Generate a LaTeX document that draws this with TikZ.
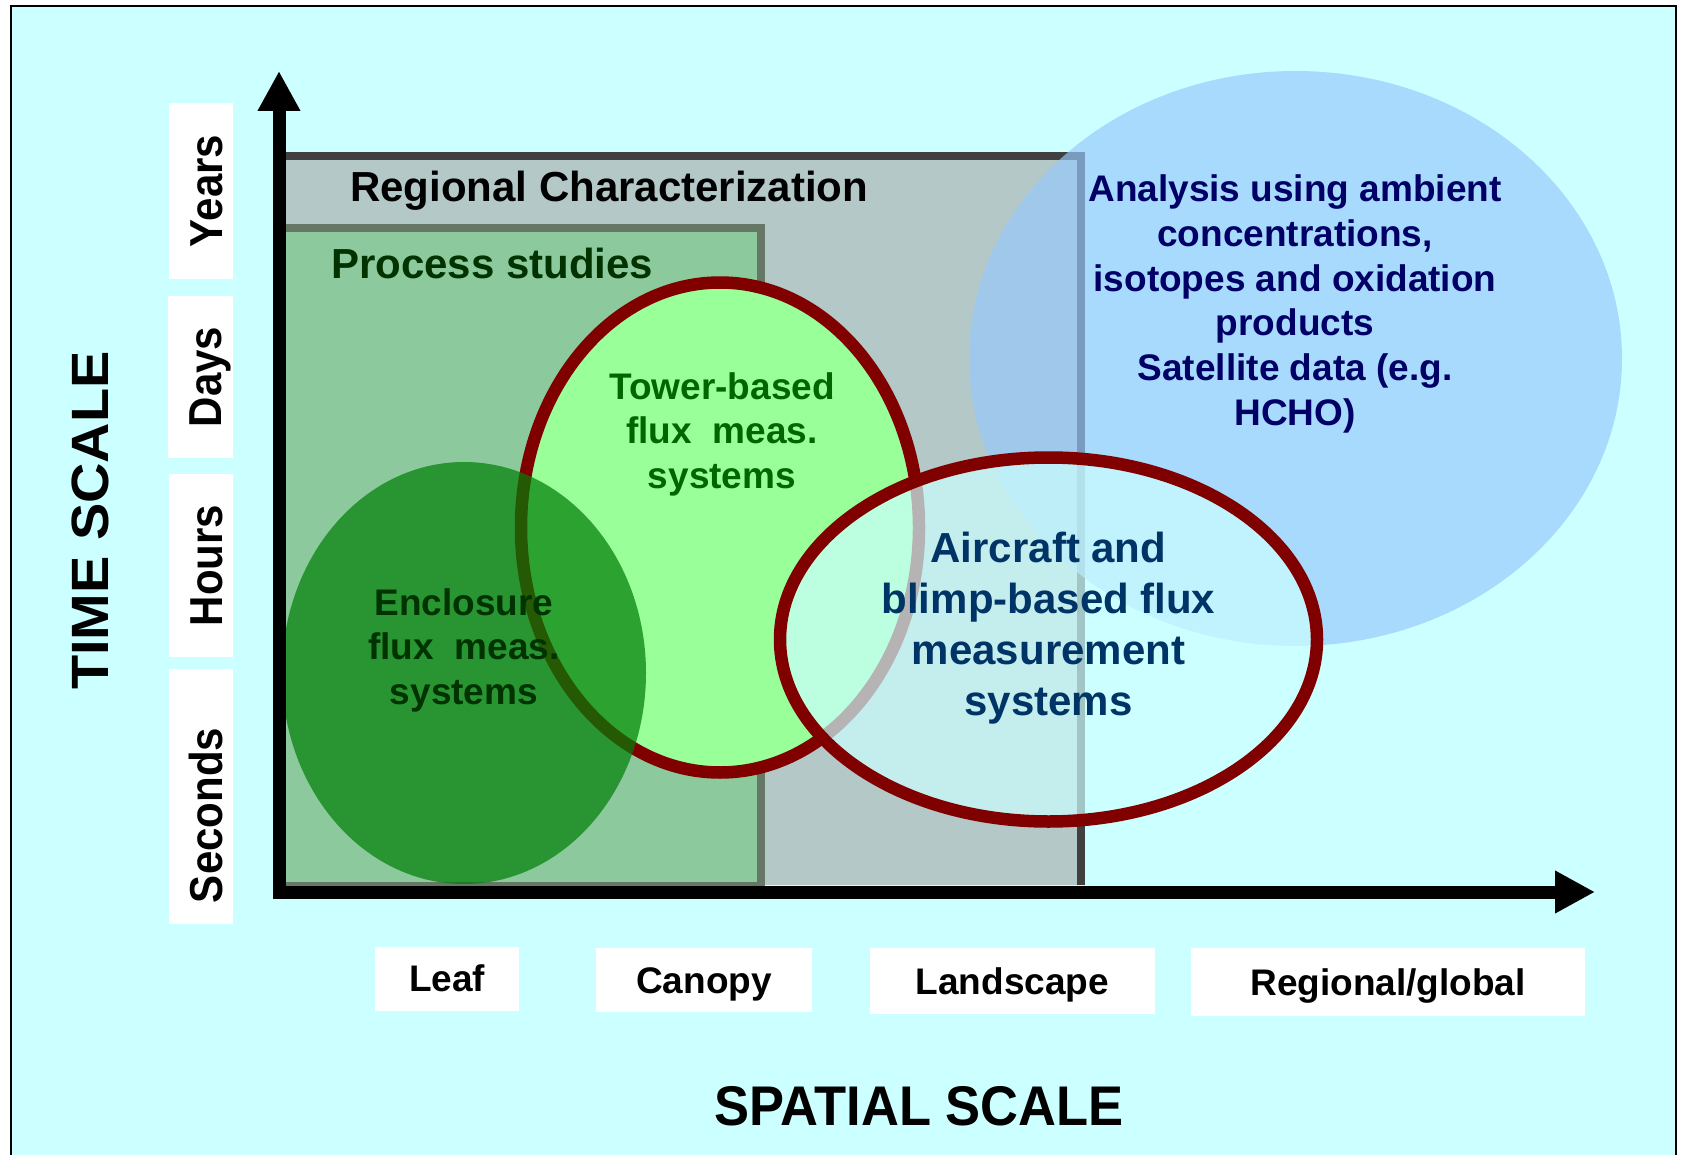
\documentclass[tikz,border=0pt]{standalone}
\usepackage{fontspec}
\setmainfont{Liberation Sans}
\usetikzlibrary{arrows.meta}

\definecolor{bgcyan}{RGB}{204,255,255}
\definecolor{regfill}{RGB}{180,200,200}
\definecolor{regline}{RGB}{64,64,64}
\definecolor{procfill}{RGB}{140,202,158}
\definecolor{procline}{RGB}{102,119,102}
\definecolor{towerfill}{RGB}{153,255,153}
\definecolor{rimred}{RGB}{128,0,0}
\definecolor{enclfill}{RGB}{0,126,7}
\definecolor{skyfill}{RGB}{150,200,252}
\definecolor{procgreen}{RGB}{0,51,0}
\definecolor{towergreen}{RGB}{0,102,0}
\definecolor{navytext}{RGB}{0,0,102}
\definecolor{airtext}{RGB}{0,51,102}

\newcommand{\fsz}[2]{\fontsize{#1}{#2}\selectfont\bfseries}

\begin{document}
\begin{tikzpicture}[x=1pt,y=-1pt,
  axisline/.style={line width=13pt, line cap=rect, -{Triangle[length=40pt,width=40pt]}},
  rim/.style={draw=rimred, line width=12.5pt},
  body/.style={align=center, inner sep=0pt, anchor=north},
  tickbox/.style={fill=white, inner sep=0pt, text height=26.6pt, text depth=0pt, font=\fsz{37}{44}},
  timebox/.style={fill=white, inner sep=0pt, rotate=90, yscale=1.1, text height=38.2pt,
                  text depth=0pt, minimum height=58.2pt, font=\fsz{42}{50}},
  title/.style={font=\fsz{52.5}{60}, anchor=base, inner sep=0pt, yscale=1.065},
]
% page and framed panel
\fill[white] (0,0) rectangle (1681,1155);
\useasboundingbox (0,0) rectangle (1681,1155);
\draw[line width=2.5pt, fill=bgcyan] (11,6) rectangle (1676,1175);

% scale regions
\fill[regfill] (279,156) rectangle (1081,885);
\draw[regline, line width=8pt, line join=miter] (279,156) -- (1081,156) -- (1081,885);
\fill[procfill] (279,228) rectangle (761,886);
\draw[procline, line width=8pt, line join=miter] (279,228) -- (761,228) -- (761,886) -- (279,886);

% measurement approaches
\coordinate (skyc) at (1295.5,358.5);
\coordinate (towc) at (720,527.5);
\coordinate (encc) at (464,673);
\coordinate (airc) at (1048.5,639.5);
\fill[skyfill, fill opacity=0.67] (skyc) ellipse [x radius=326.5, y radius=287.5];
\draw[rim, fill=towerfill] (towc) ellipse [x radius=199, y radius=245];
\fill[enclfill, fill opacity=0.71] (encc) ellipse [x radius=182, y radius=211];
\draw[rim, fill=bgcyan, fill opacity=0.7] (airc) ellipse [x radius=268.5, y radius=182];

% axes
\coordinate (origin) at (279,892);
\coordinate (ytip) at (279,71);
\coordinate (xtip) at (1595,892);
\draw[axisline] (origin) -- (ytip);
\draw[axisline] (origin) -- (xtip);

% region titles
\node[font=\fsz{42}{50}, anchor=base west, inner sep=0pt] (regional) at (350,202) {Regional Characterization};
\node[font=\fsz{42}{50}, anchor=base west, inner sep=0pt, text=procgreen] (process) at (331,279) {Process studies};

% texts inside the ellipses
\node[body, font=\fsz{37}{44.8}, text=navytext] (analysis) at (1295,174.4)
  {Analysis using ambient\\concentrations,\\isotopes and oxidation\\products\\Satellite data (e.g.\\HCHO)};
\node[body, font=\fsz{37}{44.7}, text=towergreen] (tower) at (722,372) {Tower-based\\flux~~meas.\\systems};
\node[body, font=\fsz{37}{44.5}, text=procgreen] (enclosure) at (464,588.4) {Enclosure\\flux~~meas.\\systems};
\node[body, font=\fsz{42}{51.2}, text=airtext] (aircraft) at (1048.5,531.5)
  {Aircraft and\\blimp-based flux\\measurement\\systems};

% time axis labels
\node[timebox, minimum width=176pt] (years) at (201,191) {Years};
\node[timebox, minimum width=162pt] (days) at (200.5,377) {Days};
\node[timebox, minimum width=183pt] (hours) at (201,565.5) {Hours};
\node[timebox, text width=213pt, align=left, inner xsep=21pt] (seconds) at (201,796.5) {Seconds};

% spatial axis labels
\node[tickbox, minimum width=144.4pt, minimum height=64pt] (leaf) at (447.2,978.5) {Leaf};
\node[tickbox, minimum width=216pt, minimum height=64pt] (canopy) at (704,980) {Canopy};
\node[tickbox, minimum width=284.7pt, minimum height=66.7pt] (landscape) at (1012.4,981) {Landscape};
\node[tickbox, minimum width=394pt, minimum height=68.7pt] (global) at (1388,982) {Regional/global};

% axis titles
\node[title, rotate=90] (timescale) at (108,520.5) {TIME SCALE};
\node[title] (spatialscale) at (919,1125) {SPATIAL SCALE};
\end{tikzpicture}
\end{document}
